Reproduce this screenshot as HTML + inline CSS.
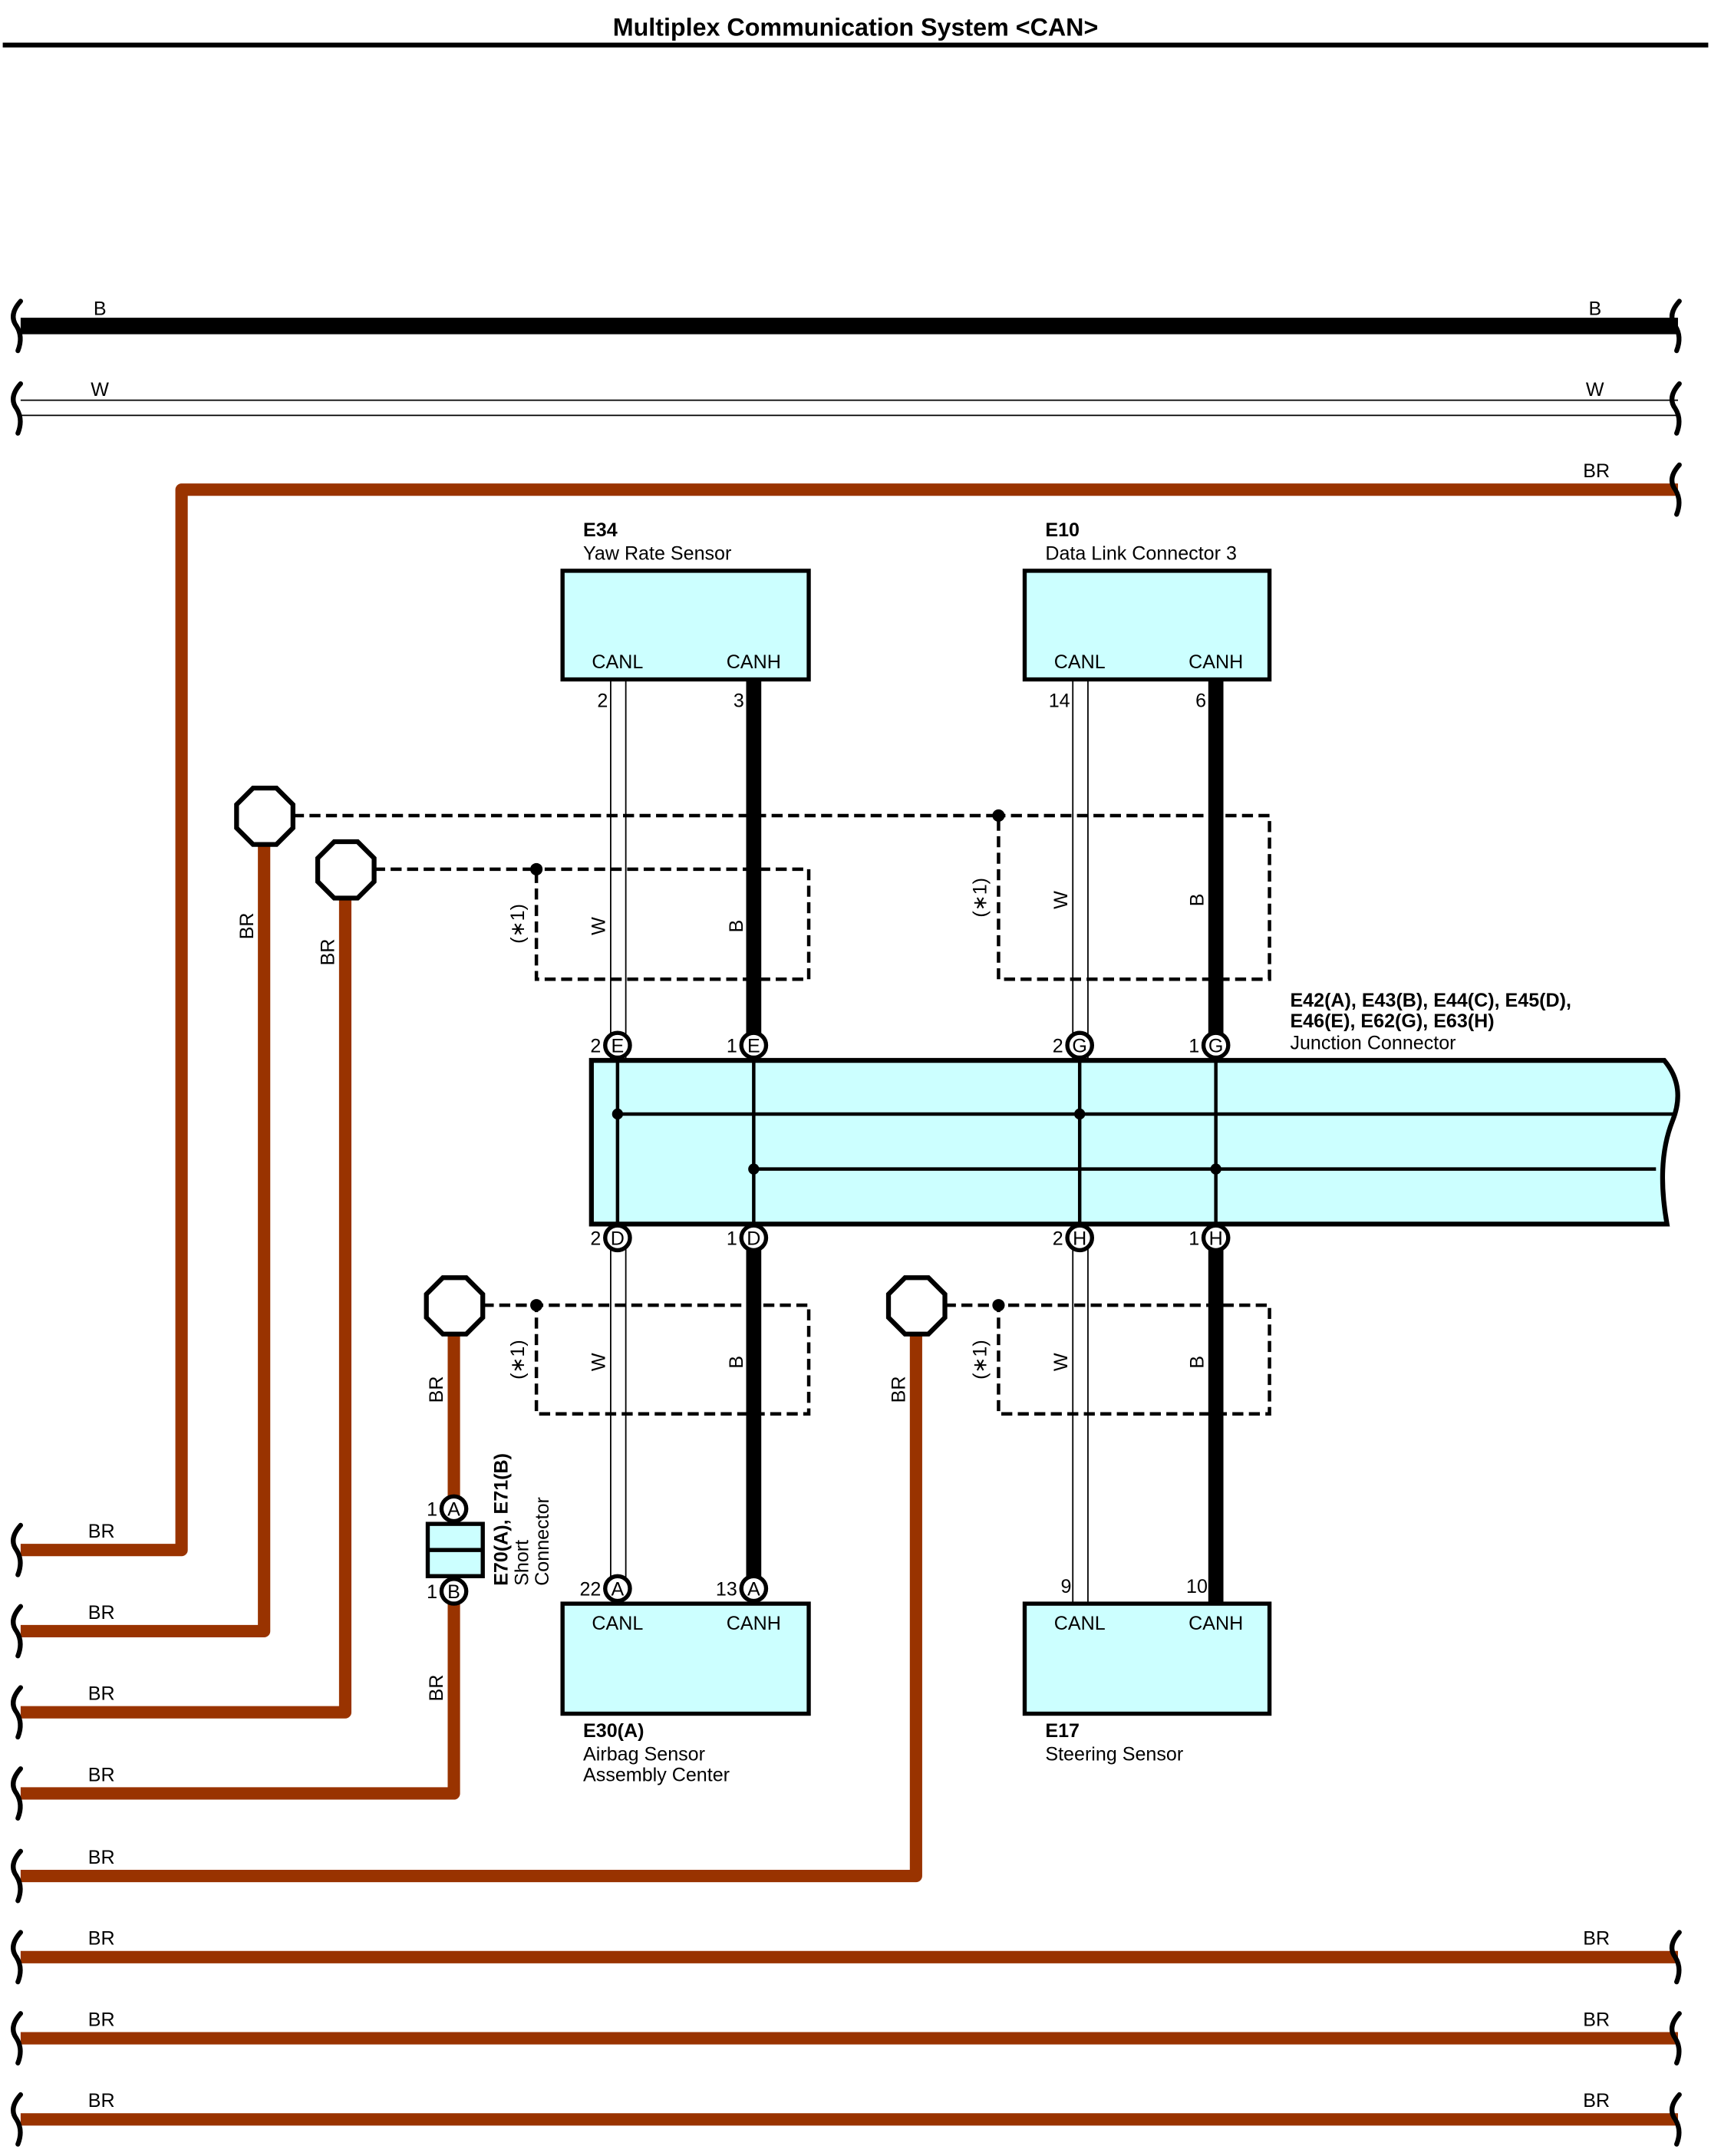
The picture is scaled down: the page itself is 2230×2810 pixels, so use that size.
<!DOCTYPE html>
<html><head><style>html,body{margin:0;padding:0;background:#fff}svg{display:block}text{font-family:"Liberation Sans",sans-serif;font-size:14px;fill:#000}</style></head><body>
<svg width="2230" height="2810" viewBox="0 0 1244 1567.6" preserveAspectRatio="none" xmlns="http://www.w3.org/2000/svg">
<text x="622" y="26" text-anchor="middle" style="font-size:18px;font-weight:bold">Multiplex Communication System &lt;CAN&gt;</text>
<rect x="2" y="31" width="1240" height="3.5" fill="#000"/>
<defs>
<path id="brk" d="M18,-18 Q9,-8 15,0 Q20,8 16,18" fill="none" stroke="#000" stroke-width="3.5" stroke-linecap="round"/>
</defs>
<line x1="15" y1="237" x2="1220" y2="237" stroke="#000" stroke-width="12"/>
<text x="68" y="229">B</text><text x="1155" y="229">B</text>
<line x1="15" y1="291" x2="1220" y2="291" stroke="#000" stroke-width="1"/>
<line x1="15" y1="302" x2="1220" y2="302" stroke="#000" stroke-width="1"/>
<text x="66" y="288">W</text><text x="1153" y="288">W</text>
<g fill="none" stroke="#993300" stroke-width="9" stroke-linejoin="round">
<path d="M1220,356 H132 V1127 H15"/>
<path d="M192,614 V1186 H15"/>
<path d="M251,653 V1245 H15"/>
<path d="M330,970 V1088"/>
<path d="M330,1166 V1304 H15"/>
<path d="M666,970 V1364 H15"/>
<path d="M15,1423 H1220"/>
<path d="M15,1482 H1220"/>
<path d="M15,1541 H1220"/>
</g>
<text x="1151" y="347">BR</text>
<text x="64" y="1118">BR</text><text x="64" y="1177">BR</text><text x="64" y="1236">BR</text><text x="64" y="1295">BR</text><text x="64" y="1355">BR</text>
<text x="64" y="1414">BR</text><text x="64" y="1473">BR</text><text x="64" y="1532">BR</text>
<text x="1151" y="1414">BR</text><text x="1151" y="1473">BR</text><text x="1151" y="1532">BR</text>
<text transform="translate(184,683) rotate(-90)">BR</text>
<text transform="translate(243,702) rotate(-90)">BR</text>
<text transform="translate(322,1020) rotate(-90)">BR</text>
<text transform="translate(322,1237) rotate(-90)">BR</text>
<text transform="translate(658,1020) rotate(-90)">BR</text>
<g>
<use href="#brk" x="-3" y="237"/><use href="#brk" x="-3" y="297"/>
<use href="#brk" x="-3" y="1127"/><use href="#brk" x="-3" y="1186"/><use href="#brk" x="-3" y="1245"/><use href="#brk" x="-3" y="1304"/><use href="#brk" x="-3" y="1364"/><use href="#brk" x="-3" y="1423"/><use href="#brk" x="-3" y="1482"/><use href="#brk" x="-3" y="1541"/>
<use href="#brk" x="1203" y="237"/><use href="#brk" x="1203" y="297"/><use href="#brk" x="1203" y="356"/><use href="#brk" x="1203" y="1423"/><use href="#brk" x="1203" y="1482"/><use href="#brk" x="1203" y="1541"/>
</g>
<g stroke="#000" stroke-width="1">
<line x1="444" y1="494" x2="444" y2="1150"/><line x1="455" y1="494" x2="455" y2="1150"/>
<line x1="780" y1="494" x2="780" y2="1166"/><line x1="791" y1="494" x2="791" y2="1166"/>
</g>
<g stroke="#000" stroke-width="11">
<line x1="548" y1="494" x2="548" y2="760"/><line x1="548" y1="900" x2="548" y2="1150"/>
<line x1="884" y1="494" x2="884" y2="760"/><line x1="884" y1="900" x2="884" y2="1166"/>
</g>
<g fill="none" stroke="#000" stroke-width="2.5" stroke-dasharray="8,4">
<path d="M213,593 H726 V712 H923 V593 H726"/>
<path d="M272,632 H390 V712 H588 V632 H390"/>
<path d="M351,949 H390 V1028 H588 V949 H390"/>
<path d="M687,949 H726 V1028 H923 V949 H726"/>
</g>
<g fill="#000"><circle cx="726" cy="593" r="4.5"/><circle cx="390" cy="632" r="4.5"/><circle cx="390" cy="949" r="4.5"/><circle cx="726" cy="949" r="4.5"/></g>
<g>
<text transform="translate(381,686) rotate(-90)">(∗1)</text>
<text transform="translate(717,667) rotate(-90)">(∗1)</text>
<text transform="translate(381,1003) rotate(-90)">(∗1)</text>
<text transform="translate(717,1003) rotate(-90)">(∗1)</text>
<text transform="translate(440,680) rotate(-90)">W</text><text transform="translate(540,678) rotate(-90)">B</text>
<text transform="translate(776,661) rotate(-90)">W</text><text transform="translate(875,659) rotate(-90)">B</text>
<text transform="translate(440,997) rotate(-90)">W</text><text transform="translate(540,995) rotate(-90)">B</text>
<text transform="translate(776,997) rotate(-90)">W</text><text transform="translate(875,995) rotate(-90)">B</text>
</g>
<g fill="#fff" stroke="#000" stroke-width="3.5">
<polygon points="184,573 201,573 213,585 213,602 201,614 184,614 172,602 172,585"/>
<polygon points="243,612 260,612 272,624 272,641 260,653 243,653 231,641 231,624"/>
<polygon points="322,929 339,929 351,941 351,958 339,970 322,970 310,958 310,941"/>
<polygon points="658,929 675,929 687,941 687,958 675,970 658,970 646,958 646,941"/>
</g>
<rect x="409" y="415" width="179" height="79" fill="#ccffff" stroke="#000" stroke-width="3"/>
<text x="424" y="390" style="font-weight:bold">E34</text><text x="424" y="407">Yaw Rate Sensor</text>
<text x="449" y="486" text-anchor="middle">CANL</text><text x="548" y="486" text-anchor="middle">CANH</text>
<text x="442" y="514" text-anchor="end">2</text><text x="541" y="514" text-anchor="end">3</text>
<rect x="745" y="415" width="178" height="79" fill="#ccffff" stroke="#000" stroke-width="3"/>
<text x="760" y="390" style="font-weight:bold">E10</text><text x="760" y="407">Data Link Connector 3</text>
<text x="785" y="486" text-anchor="middle">CANL</text><text x="884" y="486" text-anchor="middle">CANH</text>
<text x="778" y="514" text-anchor="end">14</text><text x="877" y="514" text-anchor="end">6</text>
<path d="M430,771 H1210 Q1226,790 1216,815 Q1204,845 1212,890 H430 Z" fill="#ccffff" stroke="#000" stroke-width="3.5"/>
<g stroke="#000" stroke-width="2.5">
<line x1="449" y1="771" x2="449" y2="890"/><line x1="548" y1="771" x2="548" y2="890"/>
<line x1="785" y1="771" x2="785" y2="890"/><line x1="884" y1="771" x2="884" y2="890"/>
<line x1="449" y1="810" x2="1218" y2="810"/><line x1="548" y1="850" x2="1204" y2="850"/>
</g>
<g fill="#000"><circle cx="449" cy="810" r="4"/><circle cx="785" cy="810" r="4"/><circle cx="548" cy="850" r="4"/><circle cx="884" cy="850" r="4"/></g>
<text x="938" y="732" style="font-weight:bold">E42(A), E43(B), E44(C), E45(D),</text>
<text x="938" y="747" style="font-weight:bold">E46(E), E62(G), E63(H)</text>
<text x="938" y="763">Junction Connector</text>
<g fill="#fff" stroke="#000" stroke-width="3">
<circle cx="449" cy="760" r="9"/><circle cx="548" cy="760" r="9"/><circle cx="785" cy="760" r="9"/><circle cx="884" cy="760" r="9"/>
<circle cx="449" cy="900" r="9"/><circle cx="548" cy="900" r="9"/><circle cx="785" cy="900" r="9"/><circle cx="884" cy="900" r="9"/>
<circle cx="449" cy="1155" r="9"/><circle cx="548" cy="1155" r="9"/>
<circle cx="330" cy="1097" r="9"/><circle cx="330" cy="1157" r="9"/>
</g>
<g text-anchor="middle" style="font-size:13px">
<text x="449" y="765">E</text><text x="548" y="765">E</text><text x="785" y="765">G</text><text x="884" y="765">G</text>
<text x="449" y="905">D</text><text x="548" y="905">D</text><text x="785" y="905">H</text><text x="884" y="905">H</text>
<text x="449" y="1160">A</text><text x="548" y="1160">A</text>
<text x="330" y="1102">A</text><text x="330" y="1162">B</text>
</g>
<g text-anchor="end">
<text x="437" y="765">2</text><text x="536" y="765">1</text><text x="773" y="765">2</text><text x="872" y="765">1</text>
<text x="437" y="905">2</text><text x="536" y="905">1</text><text x="773" y="905">2</text><text x="872" y="905">1</text>
<text x="437" y="1160">22</text><text x="536" y="1160">13</text>
<text x="318" y="1102">1</text><text x="318" y="1162">1</text>
<text x="779" y="1158">9</text><text x="878" y="1158">10</text>
</g>
<rect x="311" y="1108" width="40" height="38" fill="#ccffff" stroke="#000" stroke-width="3"/>
<line x1="311" y1="1127" x2="351" y2="1127" stroke="#000" stroke-width="3"/>
<text transform="translate(369,1153) rotate(-90)" style="font-weight:bold">E70(A), E71(B)</text>
<text transform="translate(384,1153) rotate(-90)">Short</text>
<text transform="translate(399,1153) rotate(-90)">Connector</text>
<rect x="409" y="1166" width="179" height="80" fill="#ccffff" stroke="#000" stroke-width="3"/>
<text x="449" y="1185" text-anchor="middle">CANL</text><text x="548" y="1185" text-anchor="middle">CANH</text>
<text x="424" y="1263" style="font-weight:bold">E30(A)</text><text x="424" y="1280">Airbag Sensor</text><text x="424" y="1295">Assembly Center</text>
<rect x="745" y="1166" width="178" height="80" fill="#ccffff" stroke="#000" stroke-width="3"/>
<text x="785" y="1185" text-anchor="middle">CANL</text><text x="884" y="1185" text-anchor="middle">CANH</text>
<text x="760" y="1263" style="font-weight:bold">E17</text><text x="760" y="1280">Steering Sensor</text>
</svg>
</body></html>
